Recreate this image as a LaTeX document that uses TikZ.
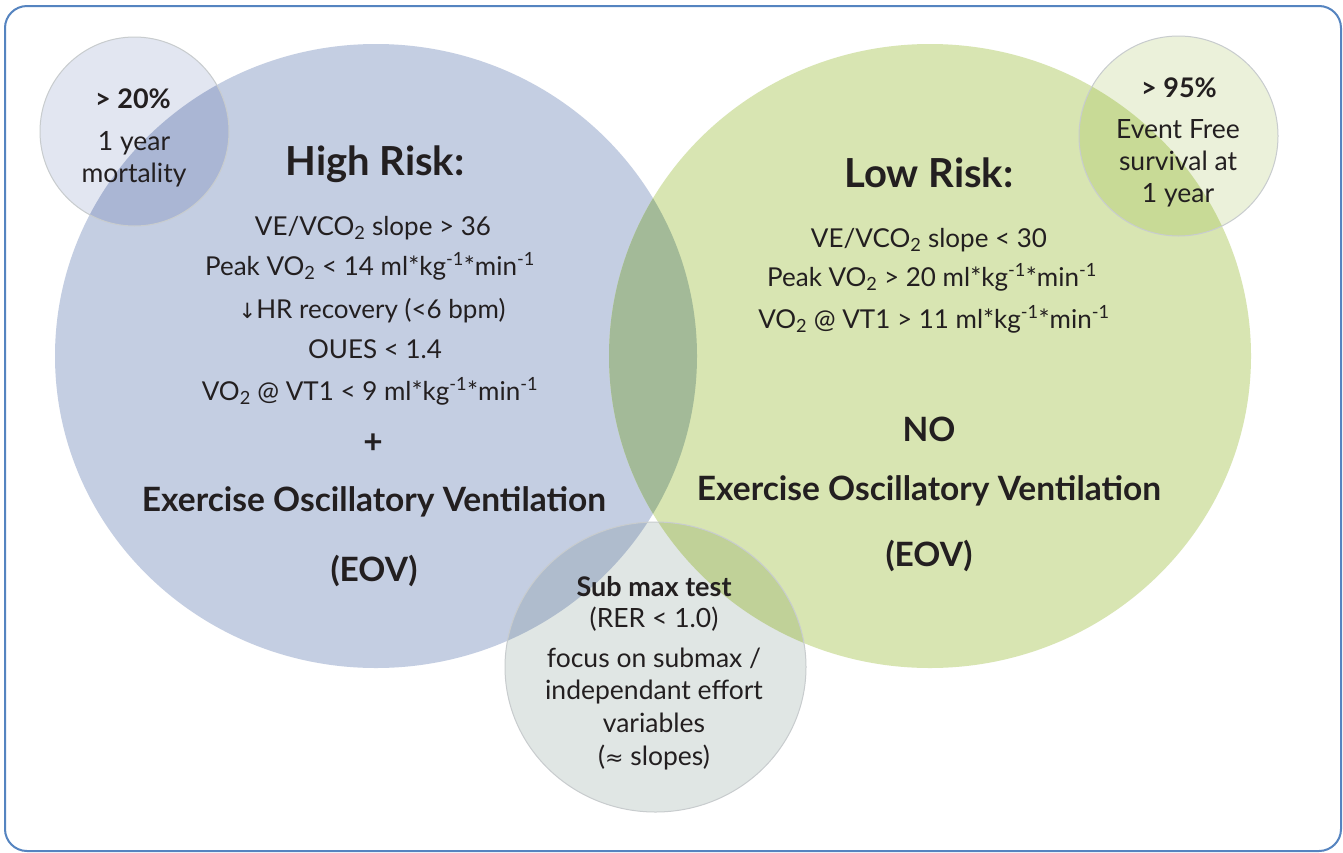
\documentclass[tikz,border=0pt]{standalone}
\usepackage{fontspec}
\setmainfont{Lato}
\newfontfamily\symfont{DejaVu Sans}
\definecolor{txt}{RGB}{35,31,32}
\definecolor{frame}{RGB}{85,132,192}
\definecolor{blueC}{RGB}{196,206,226}
\definecolor{greenC}{RGB}{216,229,178}
\definecolor{tlC}{RGB}{226,230,241}
\definecolor{trC}{RGB}{235,241,218}
\definecolor{botC}{RGB}{224,230,228}
\definecolor{bgOv}{RGB}{163,186,152}
\definecolor{tlOv}{RGB}{170,182,212}
\definecolor{trOv}{RGB}{200,218,150}
\definecolor{botBOv}{RGB}{175,188,205}
\definecolor{botGOv}{RGB}{192,209,152}
\definecolor{rim}{RGB}{200,204,206}
\tikzset{
  body/.style={font=\fontsize{26}{30}\selectfont, text=txt, anchor=base, inner sep=0pt},
  small/.style={font=\fontsize{26.5}{30}\selectfont, text=txt, anchor=base, inner sep=0pt},
  smallb/.style={font=\bfseries\fontsize{27}{31}\selectfont, text=txt, anchor=base, inner sep=0pt},
  head/.style={font=\bfseries\fontsize{40}{46}\selectfont, text=txt, anchor=base, inner sep=0pt},
  eov/.style={font=\bfseries\fontsize{33.5}{38}\selectfont, text=txt, anchor=base, inner sep=0pt},
  rimline/.style={draw=rim, line width=1pt}
}
\begin{document}
\begin{tikzpicture}[x=1pt,y=-1pt]
\useasboundingbox (0,0) rectangle (1343,852);
\fill[white] (0,0) rectangle (1343,852);
% big circles
\fill[blueC] (376,356) ellipse [x radius=321pt, y radius=312pt];
\fill[greenC] (930,356) ellipse [x radius=321pt, y radius=312pt];
\begin{scope}
  \clip (376,356) ellipse [x radius=321pt, y radius=312pt];
  \fill[bgOv] (930,356) ellipse [x radius=321pt, y radius=312pt];
\end{scope}
% top-left small circle
\fill[tlC] (134.5,131.5) ellipse [x radius=94.5pt, y radius=94.5pt];
\begin{scope}
  \clip (376,356) ellipse [x radius=321pt, y radius=312pt];
  \fill[tlOv] (134.5,131.5) ellipse [x radius=94.5pt, y radius=94.5pt];
\end{scope}
\draw[rimline] (134.5,131.5) ellipse [x radius=94.5pt, y radius=94.5pt];
% top-right small circle
\fill[trC] (1178.5,136) ellipse [x radius=99.5pt, y radius=100pt];
\begin{scope}
  \clip (930,356) ellipse [x radius=321pt, y radius=312pt];
  \fill[trOv] (1178.5,136) ellipse [x radius=99.5pt, y radius=100pt];
\end{scope}
\draw[rimline] (1178.5,136) ellipse [x radius=99.5pt, y radius=100pt];
% bottom circle
\fill[botC] (655.5,667) ellipse [x radius=150.5pt, y radius=145pt];
\begin{scope}
  \clip (376,356) ellipse [x radius=321pt, y radius=312pt];
  \fill[botBOv] (655.5,667) ellipse [x radius=150.5pt, y radius=145pt];
\end{scope}
\begin{scope}
  \clip (930,356) ellipse [x radius=321pt, y radius=312pt];
  \fill[botGOv] (655.5,667) ellipse [x radius=150.5pt, y radius=145pt];
\end{scope}
\draw[rimline] (655.5,667) ellipse [x radius=150.5pt, y radius=145pt];
% frame
\draw[frame, line width=2pt, rounded corners=22pt] (5,6) rectangle (1341,851);

% top-left texts
\node[smallb] (tl1) at (133,108) {> 20\%};
\node[small] (tl2) at (134,150) {1 year};
\node[small] (tl3) at (134,182) {mortality};

% high risk
\node[head] (hr) at (375,175) {High Risk:};
\node[body] (h1) at (373,235) {VE/VCO\textsubscript{2} slope > 36};
\node[body] (h2) at (370,275) {Peak VO\textsubscript{2} < 14 ml*kg\textsuperscript{-1}*min\textsuperscript{-1}};
\node[body] (h3) at (372,318) {{\symfont\fontsize{21}{24}\selectfont↓}HR recovery (<6 bpm)};
\node[body] (h4) at (375,358) {OUES < 1.4};
\node[body] (h5) at (370,400) {VO\textsubscript{2} @ VT1 < 9 ml*kg\textsuperscript{-1}*min\textsuperscript{-1}};
\node[eov] (hplus) at (373,453) {+};
\node[eov] (heov1) at (374,511) {Exercise Oscillatory Ventilation};
\node[eov] (heov2) at (374,581) {(EOV)};

% low risk
\node[head] (lr) at (929,187) {Low Risk:};
\node[body] (l1) at (929,247) {VE/VCO\textsubscript{2} slope < 30};
\node[body] (l2) at (932,286) {Peak VO\textsubscript{2} > 20 ml*kg\textsuperscript{-1}*min\textsuperscript{-1}};
\node[body] (l3) at (934,328) {VO\textsubscript{2} @ VT1 > 11 ml*kg\textsuperscript{-1}*min\textsuperscript{-1}};
\node[eov] (lno) at (929,441) {NO};
\node[eov] (leov1) at (929,500) {Exercise Oscillatory Ventilation};
\node[eov] (leov2) at (929,566) {(EOV)};

% top-right texts
\node[smallb] (tr1) at (1179,97) {> 95\%};
\node[small] (tr2) at (1178,138) {Event Free};
\node[small] (tr3) at (1178,170) {survival at};
\node[small] (tr4) at (1178,202) {1 year};

% bottom texts
\node[smallb] (b1) at (654,596) {Sub max test};
\node[small] (b2) at (654,627) {(RER < 1.0)};
\node[small] (b3) at (654,667) {focus on submax /};
\node[small] (b4) at (654,699) {independant effort};
\node[small] (b5) at (654,732) {variables};
\node[small] (b6) at (654,765) {({\symfont\fontsize{22}{26}\selectfont≈} slopes)};
\end{tikzpicture}
\end{document}
